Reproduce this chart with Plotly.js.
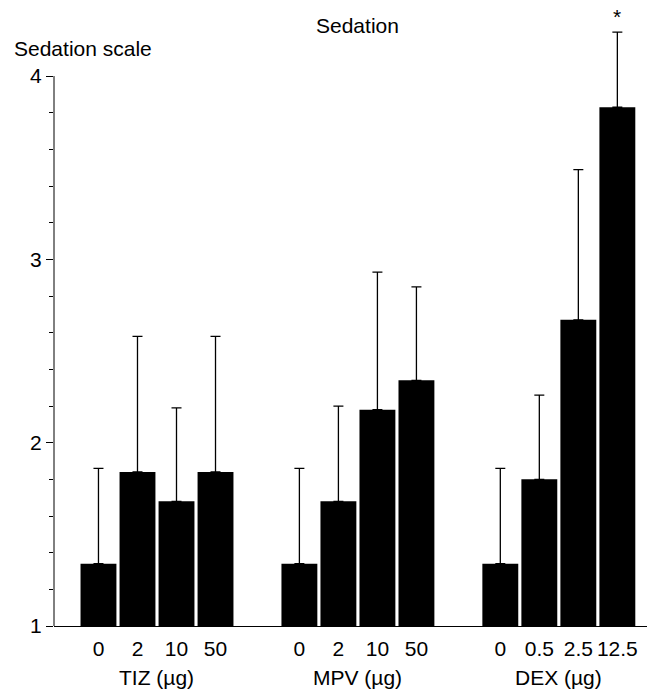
<!DOCTYPE html>
<html>
<head>
<meta charset="utf-8">
<script src="https://cdn.plot.ly/plotly-3.0.1.min.js"></script>
<style>html,body{margin:0;padding:0;background:#fff;}#chart{width:647px;height:689px;}</style>
</head>
<body>
<div id="chart"></div>
<script>
// ---- data ----
var groupNames = ["TIZ (\u00b5g)", "MPV (\u00b5g)", "DEX (\u00b5g)"];
var tizDoses = ["0", "2", "10", "50"];
var mpvDoses = ["0", "2", "10", "50"];
var dexDoses = ["0", "0.5", "2.5", "12.5"];
var tizMeans = [1.34, 1.84, 1.68, 1.84];
var tizSEM   = [0.52, 0.74, 0.51, 0.74];
var mpvMeans = [1.34, 1.68, 2.18, 2.34];
var mpvSEM   = [0.52, 0.52, 0.75, 0.51];
var dexMeans = [1.34, 1.80, 2.67, 3.83];
var dexSEM   = [0.52, 0.46, 0.82, 0.41];
var yTickVals = [1, 2, 3, 4];
var significant = ["", "", "", "", "", "", "", "", "", "", "", "*"];

// ---- layout helpers ----
var GROUP_STEP = 5.15;
var doses = [tizDoses, mpvDoses, dexDoses];
var means = [tizMeans, mpvMeans, dexMeans];
var sems = [tizSEM, mpvSEM, dexSEM];
var xs = [], ys = [], es = [], zeros = [], tickText = [];
for (var g = 0; g < 3; g++) {
  for (var i = 0; i < doses[g].length; i++) {
    xs.push(g * GROUP_STEP + i);
    ys.push(means[g][i]);
    es.push(sems[g][i]);
    zeros.push(0);
    tickText.push(doses[g][i]);
  }
}
var minorVals = [];
for (var v = 1.2; v < 3.95; v += 0.2) minorVals.push(Math.round(v * 10) / 10);

var FONT = "Liberation Sans, Arial, Helvetica, sans-serif";
var FS = 21;

var trace = {
  type: "bar",
  x: xs, y: ys, width: 0.92,
  marker: {color: "#000000", line: {width: 0}},
  error_y: {type: "data", symmetric: false, array: es, arrayminus: zeros,
            color: "#000000", thickness: 1.3, width: 5},
  hoverinfo: "none"
};

var annotations = [];
for (var g2 = 0; g2 < 3; g2++) {
  annotations.push({xref: "x", yref: "paper", x: g2 * GROUP_STEP + 1.5, y: -0.082,
    text: groupNames[g2], showarrow: false, xanchor: "center", yanchor: "middle",
    font: {family: FONT, size: FS, color: "#000"}});
}
for (var k = 0; k < xs.length; k++) {
  if (significant[k]) {
    annotations.push({xref: "x", yref: "y", x: xs[k], y: ys[k] + es[k], yshift: 16,
      text: significant[k], showarrow: false, xanchor: "center", yanchor: "middle",
      font: {family: FONT, size: FS, color: "#000"}});
  }
}
annotations.push({xref: "paper", yref: "paper", x: (357 - 54) / 593, y: (626 - 26) / 626,
  text: "Sedation", showarrow: false, xanchor: "center", yanchor: "middle",
  font: {family: FONT, size: FS, color: "#000"}});
annotations.push({xref: "paper", yref: "paper", x: (12 - 54) / 593, y: (626 - 48) / 626,
  text: "Sedation scale", showarrow: false, xanchor: "left", yanchor: "middle",
  font: {family: FONT, size: FS, color: "#000"}});

var layout = {
  width: 647, height: 689,
  margin: {l: 54, r: 0, t: 0, b: 63, pad: 0},
  paper_bgcolor: "#fff", plot_bgcolor: "#fff",
  showlegend: false,
  font: {family: FONT, size: FS, color: "#000"},
  xaxis: {range: [-1.14, 14.06], tickmode: "array", tickvals: xs, ticktext: tickText,
          ticks: "", showline: true, linecolor: "#000", linewidth: 1,
          ticklabelstandoff: 4,
          showgrid: false, zeroline: false, fixedrange: true,
          tickfont: {family: FONT, size: FS, color: "#000"}},
  yaxis: {range: [1, 4.415], tickmode: "array", tickvals: yTickVals,
          ticks: "outside", ticklen: 7, tickwidth: 1, tickcolor: "#000",
          minor: {tickmode: "array", tickvals: minorVals, ticks: "outside", ticklen: 4,
                  tickwidth: 1, tickcolor: "#000", showgrid: false},
          showline: false, showgrid: false, zeroline: false, fixedrange: true,
          tickfont: {family: FONT, size: FS, color: "#000"}},
  shapes: [{type: "line", xref: "paper", yref: "y", x0: 0, x1: 0, y0: 1, y1: 4,
            line: {color: "#000", width: 1}}],
  annotations: annotations
};

Plotly.newPlot("chart", [trace], layout, {staticPlot: true, displayModeBar: false});
</script>
</body>
</html>
